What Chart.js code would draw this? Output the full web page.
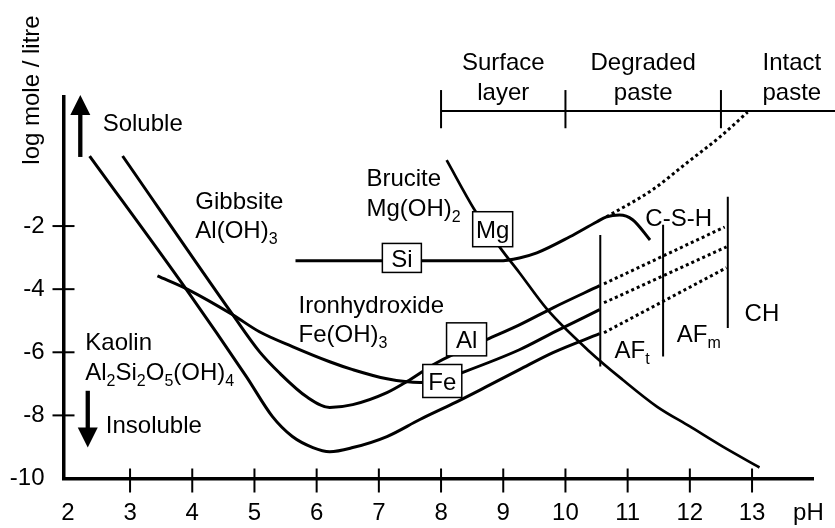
<!DOCTYPE html>
<html><head><meta charset="utf-8">
<script src="https://cdn.jsdelivr.net/npm/chart.js@4.4.1/dist/chart.umd.min.js"></script>
<style>html,body{margin:0;padding:0;background:#fff}#wrap{width:835px;height:528px}</style>
</head><body><div id="wrap"><canvas id="c" width="835" height="528"></canvas></div>
<script>
// ---- axis ticks ----
const X_TICKS = [2, 3, 4, 5, 6, 7, 8, 9, 10, 11, 12, 13];
const Y_TICKS = [-10, -8, -6, -4, -2];

// ---- solubility curves (pH vs log mole/litre) ----
const KAOLIN_PH  = [2.35, 3.91, 4.87, 5.29, 5.61, 5.94, 6.21, 6.58, 7.13, 7.66, 8.19, 8.73, 9.26, 9.80, 10.55];
const KAOLIN_LOG = [0.22, -4.02, -6.77, -8.04, -8.67, -9.02, -9.15, -9.02, -8.67, -8.13, -7.63, -7.09, -6.55, -6.01, -5.41];

const GIBBSITE_PH  = [2.88, 4.65, 5.08, 5.40, 5.84, 6.21, 6.58, 7.13, 7.45, 7.93, 8.73, 9.26, 9.80, 10.55];
const GIBBSITE_LOG = [0.22, -4.81, -5.98, -6.65, -7.41, -7.75, -7.66, -7.28, -6.93, -6.33, -5.60, -5.13, -4.59, -3.89];

const FE_PH  = [3.44, 3.94, 4.65, 5.08, 5.61, 6.21, 6.58, 7.13, 7.66, 8.01, 8.33, 9.26, 9.80, 10.55];
const FE_LOG = [-3.58, -4.02, -4.81, -5.35, -5.82, -6.30, -6.55, -6.84, -6.96, -6.87, -6.65, -5.92, -5.38, -4.65];

const SI_PH  = [5.66, 8.94, 9.26, 9.54, 10.07, 10.50, 10.66, 10.87, 11.08, 11.36];
const SI_LOG = [-3.10, -3.10, -3.01, -2.85, -2.34, -1.87, -1.71, -1.65, -1.80, -2.44];

const CSH_EXT_PH  = [10.66, 11.40, 11.95, 12.48, 12.93];
const CSH_EXT_LOG = [-1.71, -0.85, 0.00, 0.82, 1.61];

const MG_PH  = [8.09, 8.54, 8.94, 9.26, 9.71, 10.39, 10.92, 11.47, 12.00, 12.53, 13.12];
const MG_LOG = [0.09, -1.49, -2.66, -3.48, -4.65, -5.98, -6.87, -7.72, -8.35, -8.99, -9.65];

// dotted extensions beyond AFt boundary
const AL_EXT_PH  = [10.62, 12.56];
const AL_EXT_LOG = [-3.83, -2.03];
const FE_EXT_PH  = [10.62, 12.59];
const FE_EXT_LOG = [-4.43, -2.66];
const KAOLIN_EXT_PH  = [10.62, 12.59];
const KAOLIN_EXT_LOG = [-5.38, -3.32];

// phase boundaries (vertical lines): pH, log top, log bottom
const PHASE_NAMES = ["AFt", "AFm", "CH"];
const PHASE_PH    = [10.56, 11.57, 12.61];
const PHASE_TOP   = [-2.28, -1.96, -1.07];
const PHASE_BOT   = [-6.45, -6.13, -5.23];

// zones of the attacked paste
const ZONE_BOUNDS = [8, 10, 12.5];
const ZONE_NAMES  = [["Surface", "layer"], ["Degraded", "paste"], ["Intact", "paste"]];
const ZONE_CENTERS = [9, 11.25, 13.64];
const ZONE_LEVEL = 1.65;

// ---------------------------------------------------------------
const FONT = "'Liberation Sans', Arial, Helvetica, sans-serif";
const pts = (xs, ys) => xs.map((x, i) => ({x: x, y: ys[i]}));
const solid = (xs, ys, w) => ({data: pts(xs, ys), borderColor: '#000', borderWidth: w || 3, pointRadius: 0,
  fill: false, cubicInterpolationMode: 'monotone', clip: false});
const dotted = (xs, ys) => ({data: pts(xs, ys), borderColor: '#000', borderWidth: 3, borderDash: [3, 3],
  borderCapStyle: 'butt', pointRadius: 0, fill: false, cubicInterpolationMode: 'monotone', clip: false});
const seg = (x1, y1, x2, y2, w) => ({data: [{x: x1, y: y1}, {x: x2, y: y2}], borderColor: '#000',
  borderWidth: w, pointRadius: 0, fill: false, tension: 0, clip: false});

const datasets = [
  solid(KAOLIN_PH, KAOLIN_LOG),
  solid(GIBBSITE_PH, GIBBSITE_LOG),
  solid(FE_PH, FE_LOG),
  solid(SI_PH, SI_LOG),
  solid(MG_PH, MG_LOG, 2.7),
  dotted(CSH_EXT_PH, CSH_EXT_LOG),
  dotted(AL_EXT_PH, AL_EXT_LOG),
  dotted(FE_EXT_PH, FE_EXT_LOG),
  dotted(KAOLIN_EXT_PH, KAOLIN_EXT_LOG),
];
PHASE_PH.forEach((p, i) => datasets.push(seg(p, PHASE_TOP[i], p, PHASE_BOT[i], 2)));
datasets.push(seg(ZONE_BOUNDS[0], ZONE_LEVEL, 14.5, ZONE_LEVEL, 2));
ZONE_BOUNDS.forEach(b => datasets.push(seg(b, ZONE_LEVEL - 0.55, b, ZONE_LEVEL + 0.66, 2)));

function richText(ctx, parts, x, yc, align) {
  // parts: [text, isSub]
  const main = '24px ' + FONT, sub = '16px ' + FONT;
  let w = 0;
  parts.forEach(p => { ctx.font = p[1] ? sub : main; w += ctx.measureText(p[0]).width; });
  let cx = align === 'center' ? x - w / 2 : x;
  const base = yc + 8.6;
  ctx.textAlign = 'left'; ctx.textBaseline = 'alphabetic';
  parts.forEach(p => {
    ctx.font = p[1] ? sub : main;
    ctx.fillText(p[0], cx, p[1] ? base + 6 : base);
    cx += ctx.measureText(p[0]).width;
  });
}

const deco = {
  id: 'deco',
  afterDatasetsDraw(chart) {
    const {ctx, scales: {x, y}, chartArea: ca} = chart;
    const X = v => x.getPixelForValue(v), Y = v => y.getPixelForValue(v);
    ctx.save();
    ctx.fillStyle = '#000'; ctx.strokeStyle = '#000';

    // crossing tick marks
    ctx.lineWidth = 2;
    X_TICKS.slice(1).forEach(v => { const p = X(v); ctx.beginPath(); ctx.moveTo(p, ca.bottom - 10); ctx.lineTo(p, ca.bottom + 14); ctx.stroke(); });
    Y_TICKS.slice(1).forEach(v => { const p = Y(v); ctx.beginPath(); ctx.moveTo(ca.left - 11, p); ctx.lineTo(ca.left + 11, p); ctx.stroke(); });

    // axis titles
    ctx.font = '24px ' + FONT; ctx.textAlign = 'left'; ctx.textBaseline = 'middle';
    ctx.fillText('pH', X(13.66), ca.bottom + 34.5);
    ctx.save(); ctx.translate(ca.left - 31, ca.top - 7); ctx.rotate(-Math.PI / 2);
    ctx.textAlign = 'center'; ctx.fillText('log mole / litre', 0, 0); ctx.restore();

    // arrows
    const arrow = (xv, tailV, tipV) => {
      const px = X(xv), t = Y(tailV), h = Y(tipV), dir = h < t ? 1 : -1;
      ctx.lineWidth = 4.3; ctx.beginPath(); ctx.moveTo(px, t); ctx.lineTo(px, h + dir * 18); ctx.stroke();
      ctx.beginPath(); ctx.moveTo(px, h); ctx.lineTo(px - 10, h + dir * 20); ctx.lineTo(px + 10, h + dir * 20); ctx.closePath(); ctx.fill();
    };
    arrow(2.20, 0.19, 2.15);
    arrow(2.32, -7.22, -9.02);

    // text labels
    const T = (parts, xv, yv, al) => richText(ctx, parts, X(xv), Y(yv), al || 'left');
    T([['Soluble']], 2.56, 1.27);
    T([['Insoluble']], 2.61, -8.29);
    T([['Gibbsite']], 4.05, -1.20);
    T([['Al(OH)'], ['3', 1]], 4.05, -2.12);
    T([['Brucite']], 6.80, -0.47);
    T([['Mg(OH)'], ['2', 1]], 6.80, -1.42);
    T([['Ironhydroxide']], 5.71, -4.49);
    T([['Fe(OH)'], ['3', 1]], 5.71, -5.41);
    T([['Kaolin']], 2.28, -5.66);
    T([['Al'], ['2', 1], ['Si'], ['2', 1], ['O'], ['5', 1], ['(OH)'], ['4', 1]], 2.28, -6.61);
    T([['C-S-H']], 11.82, -1.71, 'center');
    T([['AF'], ['t', 1]], 10.79, -5.92);
    T([['AF'], ['m', 1]], 11.79, -5.41);
    T([['CH']], 12.88, -4.75);

    // zone labels
    const zl = Y(ZONE_LEVEL);
    ZONE_NAMES.forEach((n, i) => {
      richText(ctx, [[n[0]]], X(ZONE_CENTERS[i]), zl - 49, 'center');
      richText(ctx, [[n[1]]], X(ZONE_CENTERS[i]), zl - 19, 'center');
    });

    // boxed element labels
    const box = (lbl, xv, yv, w, h) => {
      const cx = X(xv), cy = Y(yv);
      ctx.fillStyle = '#fff'; ctx.fillRect(cx - w / 2, cy - h / 2, w, h);
      ctx.lineWidth = 1.5; ctx.strokeRect(cx - w / 2, cy - h / 2, w, h);
      ctx.fillStyle = '#000';
      richText(ctx, [[lbl]], cx, cy, 'center');
    };
    box('Si', 7.37, -3.01, 39, 29);
    box('Mg', 8.83, -2.10, 40, 35);
    box('Al', 8.41, -5.59, 40, 33);
    box('Fe', 8.02, -6.91, 39, 33);
    ctx.restore();
  }
};

new Chart(document.getElementById('c'), {
  type: 'line',
  data: {datasets: datasets},
  options: {
    responsive: false, animation: false, devicePixelRatio: 1,
    layout: {padding: {top: 97, right: 22, left: 0, bottom: 0}},
    plugins: {legend: {display: false}, tooltip: {enabled: false}},
    scales: {
      x: {
        type: 'linear', min: 1.93, max: 13.98,
        afterBuildTicks: s => { s.ticks = X_TICKS.map(v => ({value: v})); },
        afterFit: s => { s.height = 49.5; },
        grid: {display: false, drawTicks: false},
        border: {display: true, color: '#000', width: 3.5},
        ticks: {color: '#000', font: {family: FONT, size: 24}, padding: 20, maxRotation: 0, autoSkip: false,
          callback: v => String(v)}
      },
      y: {
        type: 'linear', min: -10, max: 2.09,
        afterBuildTicks: s => { s.ticks = Y_TICKS.map(v => ({value: v})); },
        afterFit: s => { s.width = 63.5; },
        grid: {display: false, drawTicks: false},
        border: {display: true, color: '#000', width: 3.5},
        ticks: {color: '#000', font: {family: FONT, size: 24}, padding: 19, autoSkip: false,
          callback: v => String(v)}
      }
    }
  },
  plugins: [deco]
});
</script>
</body></html>
